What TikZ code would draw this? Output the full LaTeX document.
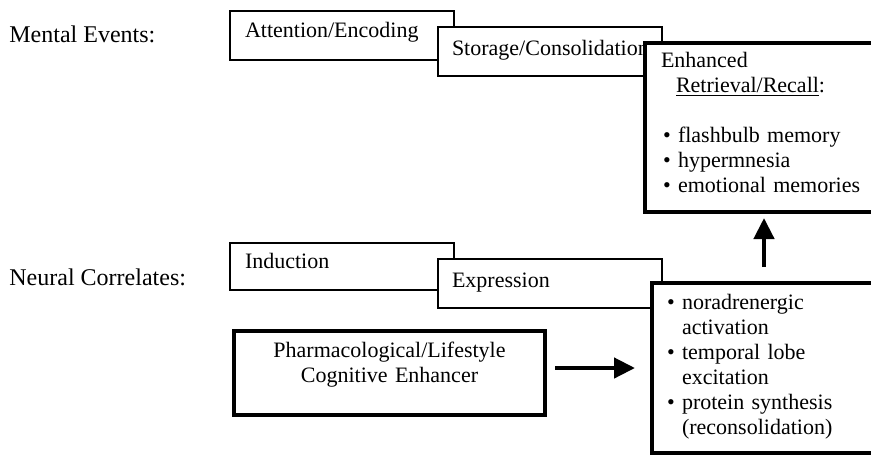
\documentclass[tikz,border=0pt]{standalone}
\usepackage{fontspec}
\setmainfont{Liberation Serif}
\usetikzlibrary{arrows.meta}
\hyphenpenalty=10000
\exhyphenpenalty=10000

\tikzset{
  stage/.style={draw, line width=0.6pt, fill=white, anchor=north west, outer sep=0pt,
    align=left, inner ysep=0pt, font=\fontsize{11}{12.5}\selectfont},
  result/.style={stage, line width=1.85pt},
  rowlabel/.style={anchor=base west, inner sep=0pt, font=\fontsize{12}{12.5}\selectfont},
  bigarrow/.style={line width=2.2pt, -{Triangle[width=10pt,length=10.5pt]}},
}

\begin{document}
\begin{tikzpicture}[x=0.5pt,y=-0.5pt]
  \useasboundingbox (0,0) rectangle (871,456);

  % row labels
  \node[rowlabel] (mental) at (9,42) {Mental Events:};
  \node[rowlabel] (neural) at (9,285) {Neural Correlates:};

  % mental events
  \node[stage, inner xsep=7.5pt, text width=97pt, text height=13pt, text depth=11.5pt]
    (attention) at (230,11) {Attention/Encoding};
  \node[stage, inner xsep=7pt, text width=98pt, text height=14pt, text depth=10.5pt]
    (storage) at (438,27) {Storage/Consolidation};
  \node[result, inner xsep=8pt, text width=104pt, text height=12pt, text depth=72.5pt]
    (recall) at (645,43) {Enhanced\\
      \hspace*{7.5pt}\underline{Retrieval/Recall}:\\[12.5pt]
      \hspace*{1pt}\textbullet\ flashbulb memory\\
      \hspace*{1pt}\textbullet\ hypermnesia\\
      \hspace*{1pt}\textbullet\ emotional memories};

  % neural correlates
  \node[stage, inner xsep=7.5pt, text width=97pt, text height=12.5pt, text depth=11pt]
    (induction) at (230,243) {Induction};
  \node[stage, inner xsep=7pt, text width=98pt, text height=14pt, text depth=10.5pt]
    (expression) at (438,259) {Expression};
  \node[result, inner xsep=7.5pt, text width=97pt, text height=13pt, text depth=72pt]
    (correlates) at (652,283) {\textbullet\ noradrenergic\\
      \hphantom{\textbullet\ }activation\\
      \textbullet\ temporal lobe\\
      \hphantom{\textbullet\ }excitation\\
      \textbullet\ protein synthesis\\
      \hphantom{\textbullet\ }(reconsolidation)};

  \node[result, align=center, inner xsep=7.5pt, text width=140.5pt, text height=13pt, text depth=29pt]
    (enhancer) at (234,331) {Pharmacological/Lifestyle\\Cognitive Enhancer};

  \draw[bigarrow, shorten <=5pt, shorten >=8.5pt] (enhancer.east |- correlates.west) -- (correlates.west);
  \draw[bigarrow, shorten <=8pt, shorten >=3pt] (correlates.north) -- (correlates.north |- recall.south);
\end{tikzpicture}
\end{document}
